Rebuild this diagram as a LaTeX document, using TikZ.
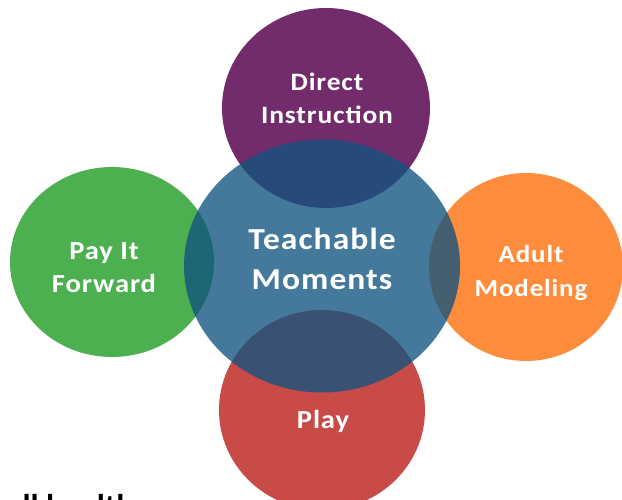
\documentclass[tikz,border=0pt]{standalone}
\usepackage{fontspec}
\setmainfont{Carlito}
\newfontfamily\lblfont[FakeStretch=1.1, LetterSpace=3.5]{Carlito}
\usetikzlibrary{shapes.geometric}

\definecolor{dipurple}{RGB}{114,44,108}
\definecolor{pifgreen}{RGB}{76,175,80}
\definecolor{amorange}{RGB}{253,141,60}
\definecolor{playred}{RGB}{200,75,72}
\definecolor{tmblue}{RGB}{17,83,127}

\tikzset{
  disc/.style={ellipse, inner sep=0pt, draw=none},
  label/.style={text=white, align=center, inner sep=0pt}
}
\newcommand{\lblsize}[2]{\lblfont\bfseries\fontsize{#1}{#2}\selectfont}

\begin{document}
\begin{tikzpicture}[x=1pt, y=-1pt]
  \useasboundingbox (0,0) rectangle (622,500);
  \clip (0,0) rectangle (622,500);

  % outer discs
  \node[disc, fill=dipurple, minimum width=208pt, minimum height=200pt] (direct) at (326,108) {};
  \node[disc, fill=pifgreen, minimum width=204pt, minimum height=190pt] (payit) at (112,262) {};
  \node[disc, fill=amorange, minimum width=194pt, minimum height=188pt] (adult) at (526,267) {};
  \node[disc, fill=playred, minimum width=206pt, minimum height=200pt] (play) at (322,410) {};

  % translucent central disc on top
  \node[disc, fill=tmblue, fill opacity=0.78, minimum width=276pt, minimum height=253pt] (teach) at (322,266) {};

  % labels
  \node[label, font=\lblsize{25}{33}] (directlbl) at (327,98) {Direct\\Instruction};
  \node[label, font=\lblsize{30.5}{40}] (teachlbl) at (322,259) {Teachable\\Moments};
  \node[label, font=\lblsize{24.5}{34}] (adultlbl) at (531,273) {Adult\\Modeling};
  \node[label, font=\lblsize{26}{33}] (payitlbl) at (104,268) {Pay It\\Forward};
  \node[label, font=\lblsize{26}{33}] (playlbl) at (323,421.5) {Play};

  % running text below, cut by the lower edge
  \node[anchor=base west, inner sep=0pt, font=\bfseries\fontsize{33}{40}\selectfont] (caption) at (6,517) {all health};
\end{tikzpicture}
\end{document}
